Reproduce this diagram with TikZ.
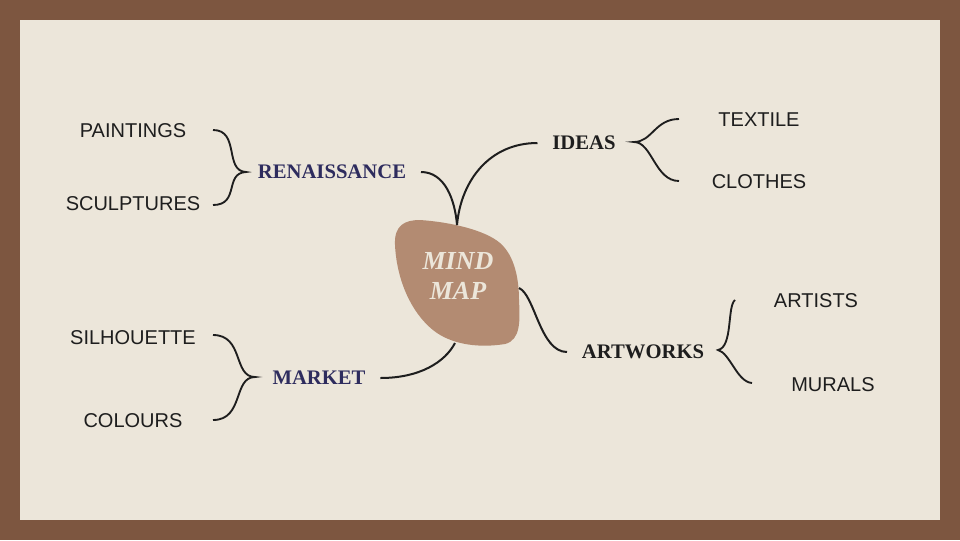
\documentclass[tikz,border=0pt]{standalone}
\usepackage{fontspec}
\setmainfont{Liberation Serif}
\newfontfamily\labelsans{Liberation Sans}
\definecolor{frame}{HTML}{7D5640}
\definecolor{paper}{HTML}{ECE6DA}
\definecolor{blob}{HTML}{B38B72}
\definecolor{navy}{HTML}{2E2C5E}
\definecolor{ink}{HTML}{1E1E1E}
\begin{document}
\begin{tikzpicture}[x=0.75pt,y=-0.75pt,
  leaf/.style={font=\labelsans\fontsize{15}{17}\selectfont, text=ink, inner sep=0pt},
  topic/.style={font=\bfseries\fontsize{15.5}{18}\selectfont, inner xsep=11pt, inner ysep=2pt},
  navytopic/.style={topic, text=navy},
  blacktopic/.style={topic, text=ink},
  link/.style={draw=ink, line width=1.5pt},
  brace/.style={draw=ink, line width=1.4pt}]
\useasboundingbox (0,0) rectangle (960,540);
\fill[frame] (0,0) rectangle (960,540);
\fill[paper] (20,20) rectangle (940,520);
% central blob
\fill[blob] (395,245) .. controls (394,225) and (405,220) .. (420,220)
  .. controls (450,222) and (485,230) .. (500,243)
  .. controls (515,256) and (519,280) .. (519,300)
  .. controls (520,320) and (521,340) .. (505,344)
  .. controls (480,348) and (455,345) .. (437,333)
  .. controls (415,318) and (397,285) .. (395,245) -- cycle;
\node[font=\bfseries\itshape\fontsize{19.5}{22}\selectfont, text=paper, align=center, inner sep=0pt] (mind) at (458,276) {MIND\\[0pt]MAP};
\coordinate (btop) at (457,225);
\coordinate (bright) at (519,288);
\coordinate (bbot) at (455,343);
% topics
\node[navytopic] (ren) at (332,172) {RENAISSANCE};
\node[blacktopic] (ideas) at (584,143) {IDEAS};
\node[blacktopic] (art) at (643,352) {ARTWORKS};
\node[navytopic] (mkt) at (319,378) {MARKET};
% leaves
\node[leaf] (paint) at (133,131) {PAINTINGS};
\node[leaf] (sculp) at (133,204) {SCULPTURES};
\node[leaf] (text) at (759,120) {TEXTILE};
\node[leaf] (cloth) at (759,182) {CLOTHES};
\node[leaf] (artists) at (816,301) {ARTISTS};
\node[leaf] (murals) at (833,385) {MURALS};
\node[leaf] (silh) at (133,338) {SILHOUETTE};
\node[leaf] (col) at (133,421) {COLOURS};
% links from blob
\draw[link] (ren.east) .. controls (445,172) and (455,200) .. (btop);
\draw[link] (btop) .. controls (461,180) and (490,143) .. (ideas.west);
\draw[link] (bright) .. controls (535,295) and (540,352) .. (art.west);
\draw[link] (mkt.east) .. controls (420,378) and (445,362) .. (bbot);
% brace coordinates
\coordinate (r1) at (213,130); \coordinate (rt) at (246,172); \coordinate (r2) at (213,205);
\coordinate (i1) at (679,119); \coordinate (it) at (634,142); \coordinate (i2) at (679,181);
\coordinate (a1) at (735,300); \coordinate (at) at (718,350); \coordinate (a2) at (752,383);
\coordinate (m1) at (213,335); \coordinate (mt) at (255,377); \coordinate (m2) at (213,420);
% braces
\draw[brace] (r1) .. controls (240,130) and (224,171) .. (rt) .. controls (224,173) and (240,205) .. (r2);
\draw[brace] (i1) .. controls (655,119) and (652,142) .. (it) .. controls (652,142) and (655,181) .. (i2);
\draw[brace] (a1) .. controls (727,306) and (733,347) .. (at) .. controls (730,353) and (737,382) .. (a2);
\draw[brace] (m1) .. controls (244,335) and (233,377) .. (mt) .. controls (233,377) and (244,420) .. (m2);
\end{tikzpicture}
\end{document}
